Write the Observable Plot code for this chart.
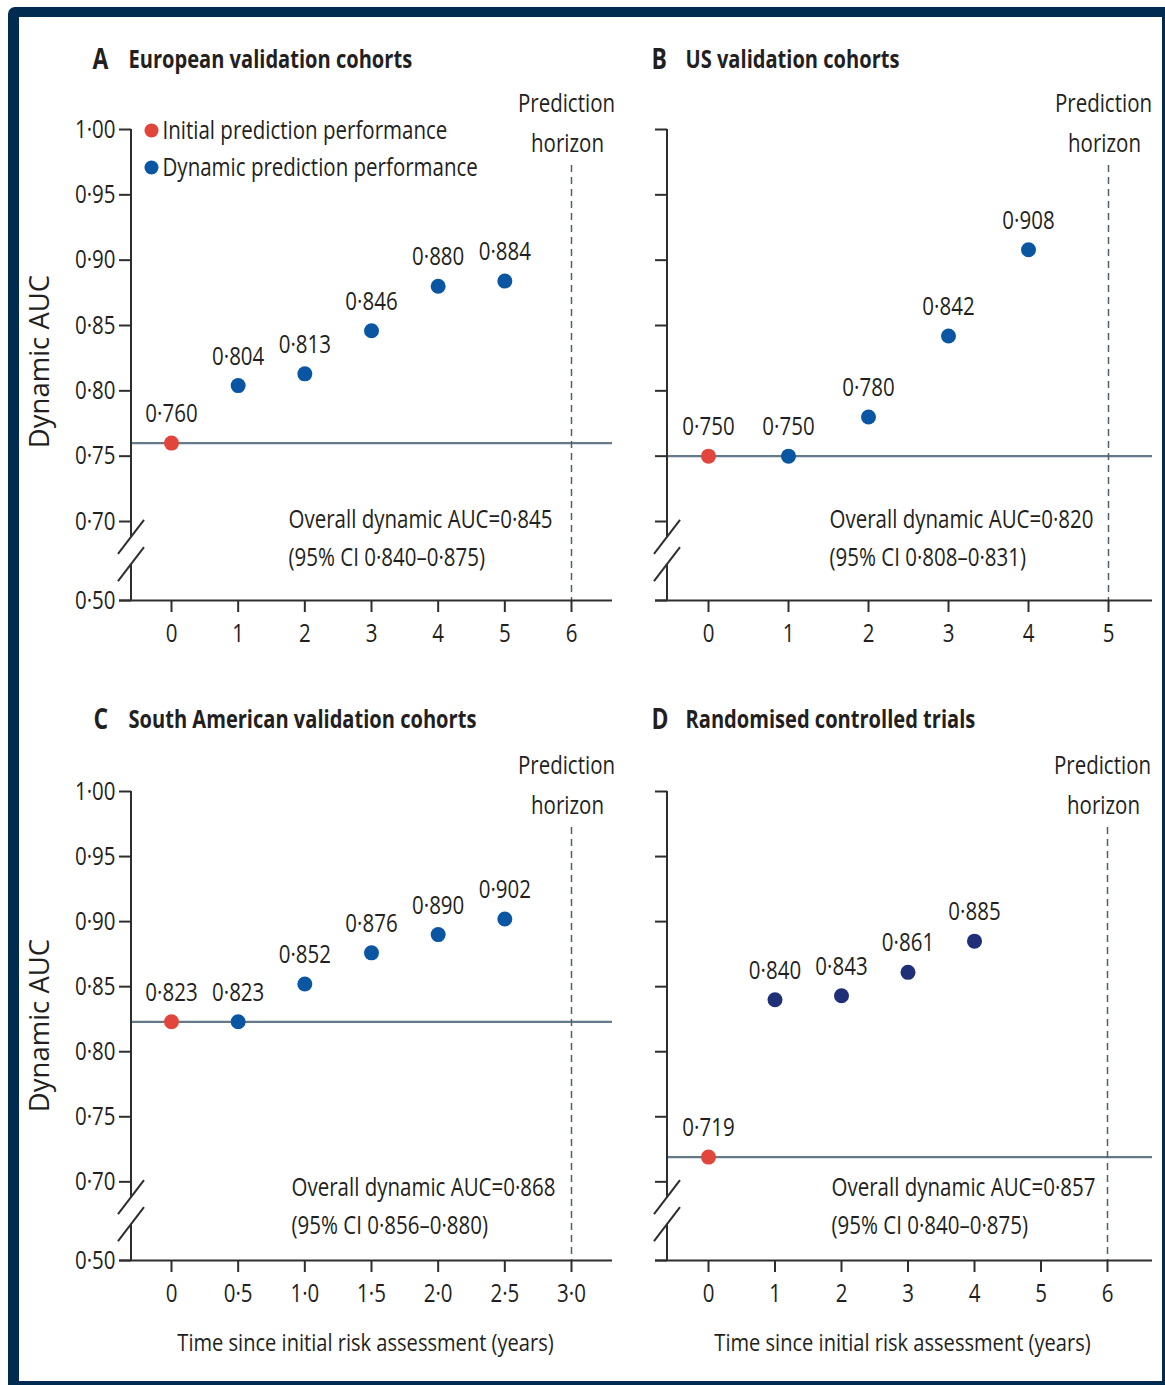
<!DOCTYPE html>
<html><head><meta charset="utf-8">
<script src="https://cdn.jsdelivr.net/npm/d3@7"></script>
<script src="https://cdn.jsdelivr.net/npm/@observablehq/plot@0.6"></script>
<style>
html,body{margin:0;padding:0;background:#fff;}
#wrap{position:relative;width:1165px;height:1385px;overflow:hidden;background:#fff;}
#frame{position:absolute;left:8px;top:7px;width:1165px;height:1385px;box-sizing:border-box;border:solid #022b52;border-width:10px 11px 11px 11px;border-radius:7px;}
</style></head><body><div id="wrap"><div id="frame"></div></div>
<script>
// ---------- data ----------
const letters = ["A", "B", "C", "D"];
const titles = ["European validation cohorts", "US validation cohorts", "South American validation cohorts", "Randomised controlled trials"];
const timesA = [0, 1, 2, 3, 4, 5];
const aucA = [0.760, 0.804, 0.813, 0.846, 0.880, 0.884];
const timesB = [0, 1, 2, 3, 4];
const aucB = [0.750, 0.750, 0.780, 0.842, 0.908];
const timesC = [0, 0.5, 1.0, 1.5, 2.0, 2.5];
const aucC = [0.823, 0.823, 0.852, 0.876, 0.890, 0.902];
const timesD = [0, 1, 2, 3, 4];
const aucD = [0.719, 0.840, 0.843, 0.861, 0.885];
const horizons = [6, 5, 3, 6];
const xTicksA = [0, 1, 2, 3, 4, 5, 6];
const xTicksB = [0, 1, 2, 3, 4, 5];
const xTicksC = [0, 0.5, 1.0, 1.5, 2.0, 2.5, 3.0];
const xTicksD = [0, 1, 2, 3, 4, 5, 6];
const overallAUC = ["0·845", "0·820", "0·868", "0·857"];
const ciAUC = ["0·840–0·875", "0·808–0·831", "0·856–0·880", "0·840–0·875"];
const yTicks = [0.5, 0.7, 0.75, 0.8, 0.85, 0.9, 0.95, 1.0];
const yMin = 0.5, yBreakAt = 0.7, yMax = 1.0;   // broken axis: 0.50 ... 0.70 compressed
const yBreakSlashes = [0.66, 0.591];
const legendLabels = ["Initial prediction performance", "Dynamic prediction performance"];
const yTitle = "Dynamic AUC";
const xTitle = "Time since initial risk assessment (years)";
const horizonLabel = ["Prediction", "horizon"];

// ---------- style ----------
const RED = "#e2453b", BLUE = "#0b56a2", NAVY = "#1f2f78", TEXT = "#231f20", AXIS = "#2e2e2e", REF = "#64798a", DASH = "#4f5f6c";
const FONT = '"Open Sans","Noto Sans",sans-serif';
const FS = 25;
const SX = 0.82; // horizontal condensing of text
const COMPRESS = 0.3023; // ratio of px/unit below the break to above it
const fmt = (v, d) => v.toFixed(d).replace(".", "·");
const yT = v => v >= yBreakAt ? v : yBreakAt - (yBreakAt - v) * COMPRESS;

const panels = [
  {i: 0, times: timesA, auc: aucA, xTicks: xTicksA, xFmt: v => String(v), dyn: BLUE,
   left: 20, top: 20, width: 600, height: 680, mL: 111, mT: 109, mR: 8, mB: 100, xRange: [151, 551],
   yLabels: true, legend: true, letterAt: [72, 40], titleAt: [108, 40], annAt: [268, 499], yTitleAt: [20, 341]},
  {i: 1, times: timesB, auc: aucB, xTicks: xTicksB, xFmt: v => String(v), dyn: BLUE,
   left: 620, top: 20, width: 542, height: 680, mL: 47, mT: 109, mR: 10, mB: 100, xRange: [88, 488],
   yLabels: false, legend: false, letterAt: [31, 40], titleAt: [65, 40], annAt: [209, 499]},
  {i: 2, times: timesC, auc: aucC, xTicks: xTicksC, xFmt: v => v === 0 ? "0" : fmt(v, 1), dyn: BLUE,
   left: 20, top: 700, width: 600, height: 680, mL: 111, mT: 91, mR: 8, mB: 120, xRange: [151, 551],
   yLabels: true, legend: false, letterAt: [73, 20], titleAt: [108, 20], annAt: [271, 487], yTitleAt: [20, 325], xTitleAt: [345, 643]},
  {i: 3, times: timesD, auc: aucD, xTicks: xTicksD, xFmt: v => String(v), dyn: NAVY,
   left: 620, top: 700, width: 542, height: 680, mL: 47, mT: 91, mR: 10, mB: 120, xRange: [88, 487],
   yLabels: false, legend: false, letterAt: [31, 20], titleAt: [65, 20], annAt: [211, 487], xTitleAt: [282, 643]}
];

function yAxisMark() {
  return (index, scales, values, dims) => {
    const g = d3.create("svg:g").attr("stroke", AXIS).attr("stroke-width", 2).attr("fill", "none");
    const x0 = dims.marginLeft;
    const yTop = dims.marginTop, yBot = dims.height - dims.marginBottom;
    const yBrk = scales.y(yBreakAt);
    const pos = v => yBrk + (yBot - yBrk) * (yBreakAt - v) / (yBreakAt - yMin);
    const b1 = pos(yBreakSlashes[0]), b2 = pos(yBreakSlashes[1]);
    g.append("line").attr("x1", x0).attr("x2", x0).attr("y1", yTop).attr("y2", b1);
    g.append("line").attr("x1", x0).attr("x2", x0).attr("y1", b2).attr("y2", yBot);
    for (const cy of [b1, b2]) {
      g.append("line").attr("x1", x0 - 13).attr("y1", cy + 17).attr("x2", x0 + 13).attr("y2", cy - 17);
    }
    return g.node();
  };
}

const wrap = document.getElementById("wrap");
for (const p of panels) {
  const data = p.times.map((t, k) => ({t, v: p.auc[k], kind: k === 0 ? "initial" : "dynamic"}));
  const at = ([px, py]) => ({frameAnchor: "top-left", dx: px - p.mL, dy: py - p.mT, lineAnchor: "middle"});
  const horizon = horizons[p.i];
  const frameW = p.width - p.mL - p.mR;
  const marks = [
    Plot.ruleY([p.auc[0]], {stroke: REF, strokeWidth: 2.2}),
    Plot.ruleX([horizon], {stroke: DASH, strokeWidth: 1.5, strokeDasharray: "7,5", insetTop: 36}),
    Plot.ruleY([yMin], {stroke: AXIS, strokeWidth: 2, insetLeft: -12}),
    Plot.ruleY(yTicks, {stroke: AXIS, strokeWidth: 2, insetLeft: -12, insetRight: frameW}),
    yAxisMark(),
    Plot.axisX({ticks: p.xTicks, tickFormat: p.xFmt, tickSize: 12, tickPadding: 12, strokeWidth: 2, fontSize: FS, anchor: "bottom", label: null, fill: TEXT}),
    Plot.dot(data.filter(d => d.kind === "initial"), {x: "t", y: "v", r: 7.5, fill: RED}),
    Plot.dot(data.filter(d => d.kind === "dynamic"), {x: "t", y: "v", r: 7.5, fill: p.dyn}),
    Plot.text(data, {x: "t", y: "v", text: d => fmt(d.v, 3), dy: -29, fontSize: FS, fill: TEXT}),
    Plot.text([horizonLabel[0]], {x: () => horizon, text: d => d, frameAnchor: "top", lineAnchor: "middle", textAnchor: "middle", dx: -5, dy: -26, fontSize: FS, fill: TEXT}),
    Plot.text([horizonLabel[1]], {x: () => horizon, text: d => d, frameAnchor: "top", lineAnchor: "middle", textAnchor: "middle", dx: -4, dy: 14, fontSize: FS, fill: TEXT}),
    Plot.text([letters[p.i]], {...at(p.letterAt), text: d => d, textAnchor: "start", fontSize: 28, fontWeight: "bold", fill: TEXT}),
    Plot.text([titles[p.i]], {...at(p.titleAt), text: d => d, textAnchor: "start", fontSize: 24.5, fontWeight: "bold", fill: TEXT}),
    Plot.text([`Overall dynamic AUC=${overallAUC[p.i]}`], {...at(p.annAt), text: d => d, textAnchor: "start", fontSize: FS, fill: TEXT}),
    Plot.text([`(95% CI ${ciAUC[p.i]})`], {...at([p.annAt[0], p.annAt[1] + 38]), text: d => d, textAnchor: "start", fontSize: FS, fill: TEXT})
  ];
  if (p.yLabels) {
    marks.push(Plot.text(yTicks, {y: d => d, text: d => fmt(d, 2), frameAnchor: "left", textAnchor: "end", lineAnchor: "middle", dx: -16, fontSize: FS, fill: TEXT}));
  }
  if (p.yTitleAt) {
    marks.push(Plot.text([yTitle], {...at(p.yTitleAt), text: d => d, textAnchor: "middle", rotate: -90, fontSize: 27.5, fill: TEXT}));
  }
  if (p.xTitleAt) {
    marks.push(Plot.text([xTitle], {...at(p.xTitleAt), text: d => d, textAnchor: "middle", fontSize: 24.5, fill: TEXT}));
  }
  if (p.legend) {
    legendLabels.forEach((lab, k) => {
      marks.push(Plot.dot([lab], {...at([131, 110 + k * 37]), r: 7, fill: k === 0 ? RED : BLUE}));
      marks.push(Plot.text([lab], {...at([142, 110 + k * 37]), text: d => d, textAnchor: "start", fontSize: 25, fill: TEXT}));
    });
  }
  const svg = Plot.plot({
    width: p.width, height: p.height,
    marginLeft: p.mL, marginTop: p.mT, marginRight: p.mR, marginBottom: p.mB,
    x: {domain: [p.xTicks[0], p.xTicks[p.xTicks.length - 1]], range: p.xRange},
    y: {transform: yT, domain: [yT(yMin), yMax], axis: null},
    style: {fontFamily: FONT, fontSize: FS + "px", color: AXIS, background: "transparent", overflow: "visible"},
    marks
  });
  // condense text horizontally (reference uses a condensed typeface)
  svg.querySelectorAll("text").forEach(t => {
    const tr = t.getAttribute("transform") || "";
    if (tr.includes("rotate")) return;
    if (tr) t.setAttribute("transform", tr + ` scale(${SX},1)`);
    else {
      const x = +(t.getAttribute("x") || 0), y = +(t.getAttribute("y") || 0);
      t.removeAttribute("x"); t.removeAttribute("y");
      t.setAttribute("transform", `translate(${x},${y}) scale(${SX},1)`);
    }
  });
  svg.style.position = "absolute";
  svg.style.left = p.left + "px";
  svg.style.top = p.top + "px";
  wrap.appendChild(svg);
}
</script>
</body></html>
